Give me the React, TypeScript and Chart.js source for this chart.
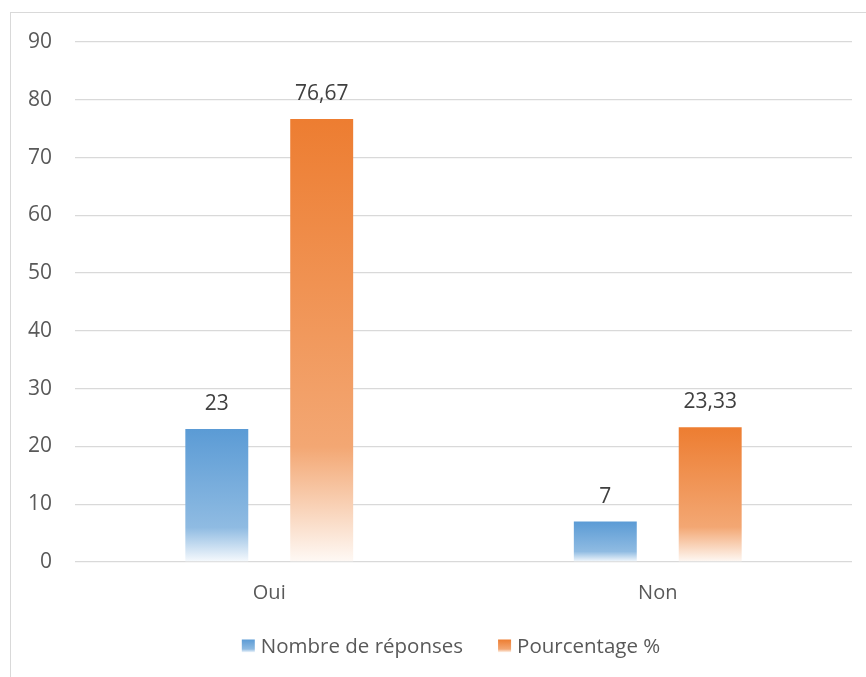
import React, { useEffect, useRef } from "react";
import { Chart, registerables } from "chart.js";

Chart.register(...registerables);

const categories = ["Oui", "Non"];
const seriesNames = ["Nombre de réponses", "Pourcentage %"];
const nombreReponses = [23, 7];
const pourcentage = [76.67, 23.33];
const yTicks = [0, 10, 20, 30, 40, 50, 60, 70, 80, 90];

const BLUE: [number, number, number] = [91, 155, 213];
const ORANGE: [number, number, number] = [237, 125, 49];
const FONT = "'Open Sans', sans-serif";

function mix(c: [number, number, number], w: number, a = 1) {
  const r = Math.round(c[0] + (255 - c[0]) * w);
  const g = Math.round(c[1] + (255 - c[1]) * w);
  const b = Math.round(c[2] + (255 - c[2]) * w);
  return `rgba(${r},${g},${b},${a})`;
}

function fadeGradient(
  ctx: CanvasRenderingContext2D,
  top: number,
  bottom: number,
  c: [number, number, number]
) {
  const g = ctx.createLinearGradient(0, top, 0, bottom);
  g.addColorStop(0, mix(c, 0));
  g.addColorStop(0.74, mix(c, 0.32));
  g.addColorStop(1, mix(c, 0.95));
  return g;
}

function barFill(c: [number, number, number]) {
  return (context: any) => {
    const chart = context.chart;
    const y = chart.scales?.y;
    if (!y || !chart.chartArea || context.type !== "data") return mix(c, 0);
    const v = context.raw as number;
    const top = y.getPixelForValue(v);
    const bottom = y.getPixelForValue(0);
    if (!Number.isFinite(top) || !Number.isFinite(bottom) || bottom <= top) {
      return mix(c, 0);
    }
    return fadeGradient(chart.ctx, top, bottom, c);
  };
}

const valueLabels = {
  id: "valueLabels",
  afterDatasetsDraw(chart: any) {
    const ctx = chart.ctx as CanvasRenderingContext2D;
    ctx.save();
    ctx.font = `21px ${FONT}`;
    ctx.fillStyle = "#404040";
    ctx.textAlign = "center";
    ctx.textBaseline = "middle";
    chart.data.datasets.forEach((ds: any, di: number) => {
      const meta = chart.getDatasetMeta(di);
      meta.data.forEach((bar: any, i: number) => {
        const text = String(ds.data[i]).replace(".", ",");
        ctx.fillText(text, bar.x, bar.y - 25);
      });
    });
    ctx.restore();
  },
};

// legend row under the axis: faded square swatch, then the series name
const bottomLegend = {
  id: "bottomLegend",
  afterDraw(chart: any) {
    const ctx = chart.ctx as CanvasRenderingContext2D;
    const colors = [BLUE, ORANGE];
    const box = 13;
    const textGap = 6;
    const itemGap = 35;
    const centerX = 451;
    const centerY = 646;
    ctx.save();
    ctx.font = `20.5px ${FONT}`;
    ctx.textBaseline = "middle";
    ctx.textAlign = "left";
    const widths = seriesNames.map((n) => box + textGap + ctx.measureText(n).width);
    const total = widths.reduce((a, b) => a + b, 0) + itemGap * (widths.length - 1);
    let x = centerX - total / 2;
    seriesNames.forEach((name, i) => {
      const top = centerY - box / 2;
      ctx.fillStyle = fadeGradient(ctx, top, top + box, colors[i]);
      ctx.fillRect(x, top, box, box);
      ctx.fillStyle = "#595959";
      ctx.fillText(name, x + box + textGap, centerY + 1);
      x += widths[i] + itemGap;
    });
    ctx.restore();
  },
};

export default function App() {
  const canvasRef = useRef<HTMLCanvasElement | null>(null);

  useEffect(() => {
    document.body.style.margin = "0";
    document.body.style.overflow = "hidden";
    const canvas = canvasRef.current;
    if (!canvas) return;
    const chart = new Chart(canvas, {
      type: "bar",
      data: {
        labels: categories,
        datasets: [
          {
            label: seriesNames[0],
            data: nombreReponses,
            backgroundColor: barFill(BLUE),
            borderWidth: 0,
            categoryPercentage: 0.54,
            barPercentage: 0.6,
          },
          {
            label: seriesNames[1],
            data: pourcentage,
            backgroundColor: barFill(ORANGE),
            borderWidth: 0,
            categoryPercentage: 0.54,
            barPercentage: 0.6,
          },
        ],
      },
      options: {
        animation: false,
        responsive: false,
        maintainAspectRatio: false,
        layout: { padding: { left: 10, right: 14, top: 42, bottom: 55 } },
        scales: {
          x: {
            grid: { display: false, drawTicks: false },
            border: { display: false },
            ticks: {
              color: "#595959",
              font: { family: FONT, size: 20 },
              padding: 19,
            },
            afterFit: (scale: any) => {
              scale.height = 60;
            },
          },
          y: {
            min: 0,
            max: 90,
            afterBuildTicks: (scale: any) => {
              scale.ticks = yTicks.map((v) => ({ value: v }));
            },
            grid: { color: "#d9d9d9", lineWidth: 1.3, drawTicks: false },
            border: { display: false },
            ticks: {
              color: "#595959",
              font: { family: FONT, size: 21 },
              padding: 23,
            },
            afterFit: (scale: any) => {
              scale.width = 65;
            },
          },
        },
        plugins: {
          legend: { display: false },
          tooltip: { enabled: false },
        },
      },
      plugins: [valueLabels, bottomLegend],
    });
    return () => chart.destroy();
  }, []);

  return (
    <div
      style={{
        position: "fixed",
        left: 0,
        top: 0,
        width: 866,
        height: 677,
        overflow: "hidden",
        background: "#ffffff",
      }}
    >
      <div
        style={{
          position: "absolute",
          left: 10,
          top: 12,
          width: 900,
          height: 700,
          border: "1.5px solid #d9d9d9",
          boxSizing: "border-box",
        }}
      />
      <canvas
        ref={canvasRef}
        width={866}
        height={677}
        style={{ position: "absolute", left: 0, top: 0 }}
      />
    </div>
  );
}
